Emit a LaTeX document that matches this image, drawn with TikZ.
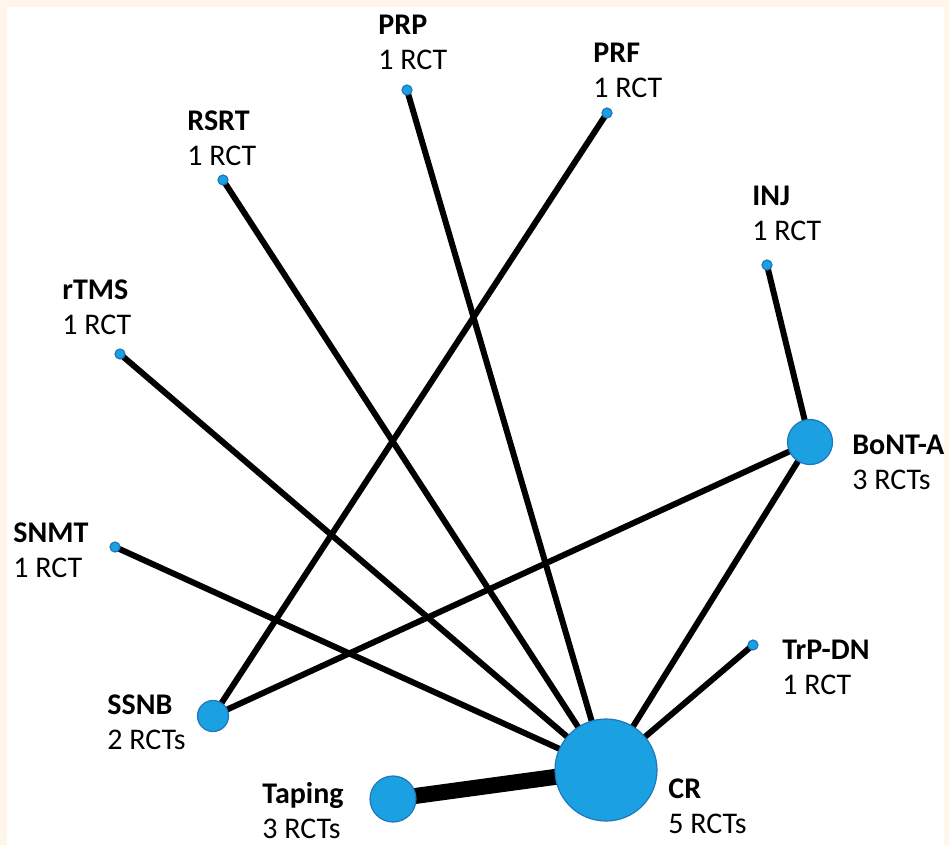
\documentclass[tikz,border=0pt]{standalone}
\usepackage{fontspec}
\setmainfont{Carlito}
\usetikzlibrary{backgrounds}
\definecolor{nodeblue}{RGB}{27,161,226}
\definecolor{nodeedge}{RGB}{30,118,188}
\definecolor{framecol}{RGB}{255,245,234}

\begin{document}
\begin{tikzpicture}[x=0.5pt,y=-0.5pt,
  trt/.style={circle,fill=nodeblue,draw=nodeedge,line width=0.6pt,inner sep=0pt},
  one/.style={trt,minimum size=5pt},
  lbl/.style={anchor=north west,inner sep=0pt,align=left,font=\fontsize{15}{17.5}\selectfont},
  link/.style={line width=3pt}]
  \useasboundingbox (0,0) rectangle (949,845);
  % frame strips
  \fill[framecol] (0,0) rectangle (949,7);
  \fill[framecol] (0,0) rectangle (7,845);
  \fill[framecol] (944,0) rectangle (949,845);
  % treatments
  \node[trt,minimum size=51pt] (cr) at (606,770) {};
  \node[trt,minimum size=23pt] (tap) at (393,799) {};
  \node[trt,minimum size=15.5pt] (ssnb) at (213,716) {};
  \node[trt,minimum size=22.5pt] (bont) at (810,442) {};
  \node[one] (prp) at (407,90) {};
  \node[one] (prf) at (607,113) {};
  \node[one] (rsrt) at (223,180) {};
  \node[one] (inj) at (767,265) {};
  \node[one] (rtms) at (120,354) {};
  \node[one] (snmt) at (115,547) {};
  \node[one] (trp) at (753,645) {};
  % labels
  \node[lbl] (lprp) at (378,15) {\textbf{PRP}\\1 RCT};
  \node[lbl] (lprf) at (593,43) {\textbf{PRF}\\1 RCT};
  \node[lbl] (lrsrt) at (187,110) {\textbf{RSRT}\\1 RCT};
  \node[lbl] (linj) at (752,186) {\textbf{INJ}\\1 RCT};
  \node[lbl] (lrtms) at (62,279) {\textbf{rTMS}\\1 RCT};
  \node[lbl] (lsnmt) at (13,522) {\textbf{SNMT}\\1 RCT};
  \node[lbl] (lbont) at (852,435) {\textbf{BoNT-A}\\3 RCTs};
  \node[lbl] (ltrp) at (782,640) {\textbf{TrP-DN}\\1 RCT};
  \node[lbl] (lssnb) at (107,694) {\textbf{SSNB}\\2 RCTs};
  \node[lbl] (lcr) at (668,778) {\textbf{CR}\\5 RCTs};
  \node[lbl] (ltap) at (262,782) {\textbf{Taping}\\3 RCTs};
  % comparisons
  \begin{scope}[on background layer]
    \foreach \t in {prp,rsrt,rtms,snmt,trp,bont}{\draw[link] (\t.center) -- (cr.center);}
    \draw[link] (inj.center) -- (bont.center);
    \draw[link] (bont.center) -- (ssnb.center);
    \draw[link] (prf.center) -- (ssnb.center);
    \draw[line width=8pt] (tap.center) -- (cr.center);
  \end{scope}
\end{tikzpicture}
\end{document}
